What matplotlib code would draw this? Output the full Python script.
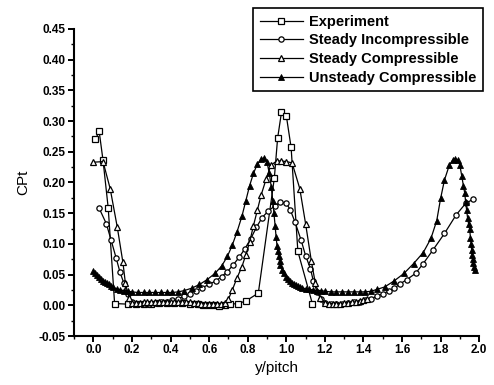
import matplotlib
matplotlib.use("Agg")
import matplotlib.pyplot as plt
from matplotlib.ticker import MultipleLocator, FormatStrFormatter

plt.rcParams['font.family'] = ['Liberation Sans', 'DejaVu Sans']
plt.rcParams['font.weight'] = 'bold'

# Experiment
exp_x = [0.01, 0.03, 0.05, 0.077, 0.11, 0.18, 0.22, 0.26, 0.30, 0.34, 0.38, 0.42, 0.46, 0.50,
         0.54, 0.57, 0.60, 0.63, 0.65, 0.68, 0.71, 0.75, 0.79, 0.855, 0.938, 0.955, 0.975, 1.0,
         1.025, 1.06, 1.135]
exp_y = [0.27, 0.283, 0.236, 0.158, 0.003, 0.002, 0.003, 0.003, 0.003, 0.004, 0.004, 0.004, 0.004,
         0.003, 0.002, 0.001, 0.0, 0.0, -0.001, 0.001, 0.002, 0.003, 0.007, 0.02, 0.207, 0.272,
         0.314, 0.309, 0.257, 0.088, 0.003]

# Steady Incompressible
si_x = [0.03, 0.067, 0.092, 0.118, 0.138, 0.158, 0.178, 0.20, 0.23, 0.26, 0.29, 0.32, 0.35, 0.38,
        0.41, 0.44, 0.47, 0.50, 0.53, 0.565, 0.60, 0.635, 0.665, 0.695, 0.725, 0.755, 0.785, 0.815,
        0.845, 0.875, 0.905, 0.94, 0.97, 1.0, 1.02, 1.046, 1.077, 1.10, 1.125, 1.14, 1.16, 1.18,
        1.20, 1.23, 1.26, 1.29, 1.32, 1.35, 1.38, 1.41, 1.44, 1.47, 1.50, 1.53, 1.56, 1.59, 1.625,
        1.67, 1.71, 1.76, 1.82, 1.88, 1.93, 1.97]
si_y = [0.158, 0.133, 0.106, 0.077, 0.054, 0.036, 0.018, 0.005, 0.003, 0.003, 0.003, 0.004, 0.005,
        0.006, 0.008, 0.011, 0.015, 0.019, 0.024, 0.029, 0.034, 0.04, 0.047, 0.055, 0.066, 0.078,
        0.092, 0.108, 0.127, 0.143, 0.153, 0.162, 0.168, 0.166, 0.156, 0.135, 0.106, 0.081, 0.06,
        0.04, 0.022, 0.01, 0.004, 0.003, 0.003, 0.003, 0.004, 0.005, 0.006, 0.008, 0.011, 0.015,
        0.019, 0.023, 0.028, 0.035, 0.042, 0.052, 0.068, 0.09, 0.117, 0.147, 0.166, 0.173]

# Steady Compressible
sc_x = [0.0, 0.05, 0.087, 0.124, 0.153, 0.166, 0.185, 0.20,
        0.22, 0.24, 0.26, 0.28, 0.30, 0.32, 0.34, 0.36, 0.38, 0.40, 0.42, 0.44, 0.46, 0.48,
        0.50, 0.52, 0.54, 0.56, 0.58, 0.60, 0.62, 0.64, 0.66, 0.68,
        0.70, 0.72, 0.745, 0.77, 0.79, 0.81, 0.83, 0.85, 0.87, 0.895, 0.92, 0.95, 0.975, 1.0,
        1.03, 1.07, 1.10, 1.13, 1.15, 1.175, 1.20,
        1.22, 1.24, 1.26, 1.28, 1.30, 1.32, 1.34, 1.36, 1.38, 1.40, 1.42]
sc_y = [0.233, 0.234, 0.19, 0.127, 0.07, 0.036, 0.012, 0.004,
        0.004, 0.004, 0.005, 0.005, 0.005, 0.005, 0.006, 0.006, 0.006, 0.006, 0.006, 0.006,
        0.006, 0.005, 0.005, 0.004, 0.004, 0.003, 0.003, 0.003, 0.003, 0.003, 0.003, 0.004,
        0.01, 0.025, 0.045, 0.063, 0.082, 0.103, 0.13, 0.155, 0.18, 0.205, 0.228, 0.235, 0.235,
        0.234, 0.232, 0.19, 0.133, 0.072, 0.037, 0.012, 0.004,
        0.003, 0.003, 0.003, 0.003, 0.004, 0.004, 0.005, 0.006, 0.007, 0.009, 0.011]

# Unsteady Compressible
uc_x = [0.0, 0.01, 0.02, 0.03, 0.04, 0.05, 0.06, 0.07, 0.08, 0.09, 0.10, 0.12, 0.14, 0.16, 0.18,
        0.20, 0.23, 0.26, 0.29, 0.32, 0.35, 0.38, 0.41, 0.44, 0.47, 0.51, 0.55, 0.59, 0.63, 0.665,
        0.695, 0.72, 0.745, 0.77, 0.79, 0.81, 0.83, 0.85, 0.87, 0.885, 0.90, 0.912, 0.922, 0.93,
        0.936, 0.942, 0.947, 0.952, 0.956, 0.96, 0.965, 0.97, 0.98, 0.99, 1.0, 1.01, 1.02, 1.03,
        1.04, 1.05, 1.06, 1.07, 1.08, 1.10, 1.12, 1.14, 1.16, 1.18, 1.20, 1.23, 1.26, 1.29, 1.32,
        1.35, 1.38, 1.41, 1.44, 1.47, 1.51, 1.56, 1.61, 1.66, 1.71, 1.75, 1.78, 1.80, 1.82, 1.845,
        1.862, 1.877, 1.89, 1.90, 1.91, 1.918, 1.925, 1.93, 1.935, 1.94, 1.945, 1.95, 1.955, 1.958,
        1.961, 1.964, 1.967, 1.97, 1.973, 1.976]
uc_y = [0.056, 0.052, 0.049, 0.046, 0.043, 0.040, 0.038, 0.036, 0.034, 0.032, 0.030, 0.027, 0.025,
        0.024, 0.023, 0.022, 0.021, 0.021, 0.021, 0.021, 0.021, 0.021, 0.021, 0.022, 0.024, 0.028,
        0.034, 0.042, 0.052, 0.064, 0.08, 0.098, 0.12, 0.145, 0.17, 0.195, 0.215, 0.23, 0.238,
        0.24, 0.233, 0.215, 0.193, 0.17, 0.15, 0.13, 0.112, 0.097, 0.088, 0.08, 0.072, 0.066,
        0.058, 0.052, 0.047, 0.043, 0.04, 0.037, 0.035, 0.033, 0.031, 0.03, 0.029, 0.027, 0.026,
        0.025, 0.024, 0.024, 0.023, 0.022, 0.022, 0.022, 0.022, 0.022, 0.022, 0.022, 0.023, 0.026,
        0.03, 0.04, 0.052, 0.068, 0.086, 0.109, 0.138, 0.174, 0.204, 0.228, 0.236, 0.239, 0.236,
        0.228, 0.21, 0.195, 0.183, 0.168, 0.155, 0.142, 0.133, 0.125, 0.11, 0.1, 0.09, 0.082,
        0.075, 0.069, 0.063, 0.058]

fig = plt.figure(figsize=(4.94, 3.85), dpi=100)
ax = fig.add_axes([0.150, 0.127, 0.820, 0.798])

ms = 3.8
lw = 0.9
ax.plot(exp_x, exp_y, '-s', color='black', lw=lw, ms=ms, mfc='white', mec='black', mew=0.9,
        label='Experiment')
ax.plot(si_x, si_y, '-o', color='black', lw=lw, ms=ms, mfc='white', mec='black', mew=0.9,
        label='Steady Incompressible')
ax.plot(sc_x, sc_y, '-^', color='black', lw=lw, ms=ms + 0.4, mfc='white', mec='black', mew=0.9,
        label='Steady Compressible')
ax.plot(uc_x, uc_y, '-^', color='black', lw=lw, ms=ms + 0.4, mfc='black', mec='black', mew=0.6,
        label='Unsteady Compressible')

ax.set_xlim(-0.1, 2.0)
ax.set_ylim(-0.05, 0.45)
ax.xaxis.set_major_locator(MultipleLocator(0.2))
ax.xaxis.set_minor_locator(MultipleLocator(0.1))
ax.yaxis.set_major_locator(MultipleLocator(0.05))
ax.yaxis.set_minor_locator(MultipleLocator(0.025))
ax.xaxis.set_major_formatter(FormatStrFormatter('%.1f'))
ax.yaxis.set_major_formatter(FormatStrFormatter('%.2f'))

for s in ['top', 'right']:
    ax.spines[s].set_visible(False)
for s in ['left', 'bottom']:
    ax.spines[s].set_linewidth(1.5)
ax.tick_params(which='major', direction='out', length=4, width=1.4, labelsize=8.5, pad=2)
ax.tick_params(which='minor', direction='out', length=2.5, width=1.0)

ax.set_xlabel('y/pitch', fontsize=11, labelpad=3)
ax.set_ylabel('CPt', fontsize=11, labelpad=6)

leg = ax.legend(loc='upper right', bbox_to_anchor=(0.978, 0.979), bbox_transform=fig.transFigure,
                fontsize=10.5, frameon=True, fancybox=False, edgecolor='black', framealpha=1,
                handlelength=3.0, labelspacing=0.32, borderpad=0.45, handletextpad=0.4,
                borderaxespad=0)
leg.get_frame().set_linewidth(1.2)

fig.savefig('out.png', dpi=100)
